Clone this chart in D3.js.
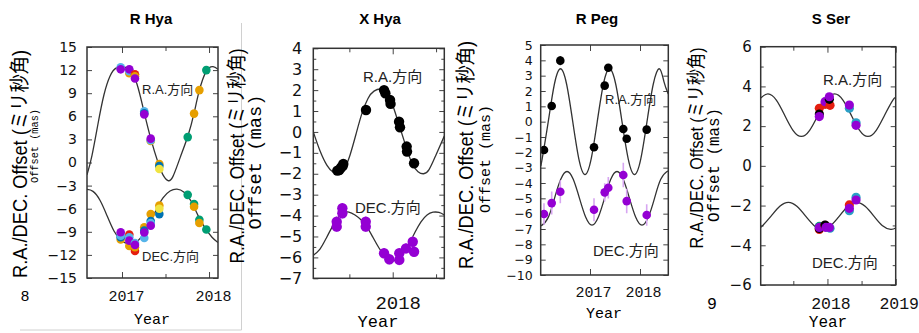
<!DOCTYPE html>
<html>
<head>
<meta charset="utf-8">
<script src="https://cdn.jsdelivr.net/npm/d3@7"></script>
<style>
  body { margin: 0; background: #fff; }
</style>
</head>
<body>
<div id="plot"></div>
<script>
// ---- data ----
// maser spot ids -> colours are set further down
// R Hya: [year, offset mas, spot]
const rHyaRA = [
  [2016.985, 12.35, "C"], [2016.985, 12.1, "A"],
  [2017.084, 11.6, "D"], [2017.084, 11.85, "C"], [2017.084, 12.1, "A"],
  [2017.149, 11.45, "G"], [2017.149, 11.2, "D"], [2017.149, 10.9, "A"],
  [2017.256, 6.65, "C"], [2017.256, 6.4, "F"], [2017.256, 6.25, "A"],
  [2017.330, 2.8, "D"], [2017.330, 2.9, "C"], [2017.330, 3.1, "A"],
  [2017.429, -0.2, "D"], [2017.429, -0.45, "F"], [2017.429, -0.85, "E"],
  [2017.755, 3.3, "B"], [2017.828, 6.35, "D"], [2017.889, 9.4, "D"], [2017.969, 12.0, "B"]
];
const rHyaDEC = [
  [2016.985, -10.0, "D"], [2016.985, -9.7, "F"], [2016.985, -9.5, "C"], [2016.985, -9.05, "A"],
  [2017.084, -9.35, "G"], [2017.084, -10.85, "D"], [2017.084, -9.7, "C"], [2017.084, -10.15, "A"],
  [2017.149, -11.5, "G"], [2017.149, -11.0, "D"], [2017.149, -10.45, "C"], [2017.149, -10.7, "A"],
  [2017.256, -8.4, "D"], [2017.256, -8.85, "F"], [2017.256, -9.8, "C"], [2017.256, -9.1, "A"],
  [2017.330, -6.7, "D"], [2017.330, -7.6, "F"], [2017.330, -7.85, "C"], [2017.330, -8.2, "A"],
  [2017.429, -5.6, "D"], [2017.429, -6.7, "F"], [2017.429, -6.0, "E"],
  [2017.755, -4.2, "B"], [2017.828, -5.4, "B"], [2017.828, -5.75, "D"],
  [2017.889, -7.45, "B"], [2017.889, -7.85, "D"], [2017.969, -8.7, "B"]
];
const rHyaRAFit = [
  [2016.598, -1.6], [2016.655, 0.9], [2016.724, 5.0], [2016.793, 8.8], [2016.862, 11.2],
  [2016.931, 12.25], [2017.011, 12.4], [2017.092, 12.0], [2017.172, 10.2], [2017.253, 6.6],
  [2017.333, 3.0], [2017.414, 0.0], [2017.471, -1.6], [2017.529, -2.35], [2017.586, -1.8],
  [2017.667, 0.6], [2017.759, 3.5], [2017.828, 6.4], [2017.885, 9.2], [2017.966, 11.8],
  [2018.046, 12.45], [2018.103, 12.1]
];
const rHyaDECFit = [
  [2016.598, -3.5], [2016.667, -3.75], [2016.747, -4.9], [2016.828, -6.9], [2016.908, -8.9],
  [2016.989, -10.1], [2017.069, -10.55], [2017.149, -10.4], [2017.230, -9.6], [2017.310, -8.1],
  [2017.391, -6.2], [2017.471, -4.6], [2017.552, -3.7], [2017.632, -3.45], [2017.713, -3.85],
  [2017.793, -5.0], [2017.874, -6.9], [2017.954, -8.5], [2018.034, -9.7], [2018.103, -10.4]
];

// X Hya: [year, offset mas, error]
const xHyaRA = [
  [2017.361, -1.85, 0.1], [2017.384, -1.82, 0.1], [2017.404, -1.7, 0.1], [2017.423, -1.63, 0.1],
  [2017.430, -1.53, 0.1], [2017.692, 1.05, 0.1], [2017.900, 2.0, 0.1], [2017.915, 1.85, 0.1],
  [2017.969, 1.53, 0.1], [2017.975, 1.34, 0.1], [2018.073, 0.49, 0.1], [2018.084, 0.22, 0.1],
  [2018.161, -0.7, 0.1], [2018.165, -0.94, 0.1], [2018.246, -1.5, 0.1]
];
const xHyaDEC = [
  [2017.354, -4.29, 0.25], [2017.354, -4.53, 0.25], [2017.419, -3.89, 0.25], [2017.419, -3.65, 0.25],
  [2017.689, -4.29, 0.25], [2017.689, -4.53, 0.25], [2017.900, -5.8, 0.25], [2017.961, -6.09, 0.25],
  [2018.076, -6.12, 0.25], [2018.076, -5.8, 0.25], [2018.153, -5.57, 0.25], [2018.231, -5.25, 0.25],
  [2018.246, -5.73, 0.25]
];
const xHyaRAFit = [
  [2017.084, 0.0], [2017.161, -0.9], [2017.242, -1.6], [2017.311, -1.92], [2017.375, -2.0],
  [2017.438, -1.8], [2017.508, -1.1], [2017.577, -0.1], [2017.646, 0.9], [2017.715, 1.6],
  [2017.784, 1.95], [2017.871, 2.05], [2017.946, 1.8], [2018.015, 1.1], [2018.084, 0.2],
  [2018.153, -0.7], [2018.223, -1.5], [2018.292, -1.9], [2018.355, -2.0], [2018.419, -1.8],
  [2018.499, -1.1], [2018.595, -0.2]
];
const xHyaDECFit = [
  [2017.084, -5.9], [2017.161, -5.6], [2017.231, -5.1], [2017.300, -4.55], [2017.369, -4.1],
  [2017.438, -3.88], [2017.494, -3.83], [2017.565, -3.97], [2017.634, -4.2], [2017.704, -4.55],
  [2017.773, -5.05], [2017.842, -5.55], [2017.911, -5.95], [2017.980, -6.15], [2018.050, -6.1],
  [2018.119, -5.8], [2018.188, -5.35], [2018.257, -4.8], [2018.326, -4.3], [2018.396, -3.97],
  [2018.465, -3.84], [2018.534, -3.85], [2018.595, -3.97]
];

// R Peg: [year, offset mas, error]
const rPegRA = [
  [2016.080, -1.85, 0.25], [2016.234, 1.02, 0.2], [2016.406, 3.98, 0.3], [2017.080, -1.67, 0.25],
  [2017.294, 2.35, 0.2], [2017.366, 3.52, 0.2], [2017.666, -0.48, 0.2], [2017.734, -1.11, 0.2],
  [2018.134, -0.52, 0.2]
];
const rPegDEC = [
  [2016.080, -6.02, 0.7], [2016.234, -5.31, 0.75], [2016.406, -4.57, 0.75], [2017.080, -5.74, 0.75],
  [2017.294, -4.61, 0.6], [2017.366, -4.31, 0.7], [2017.666, -3.48, 0.8], [2017.734, -5.18, 0.8],
  [2018.134, -6.09, 0.7]
];
const rPegRAFit = [
  [2016.014, -2.85], [2016.0425, -2.44], [2016.165, 0], [2016.2875, 2.44], [2016.41, 3.45],
  [2016.5325, 2.44], [2016.655, 0], [2016.7775, -2.44], [2016.9, -3.45], [2017.0225, -2.44],
  [2017.145, 0], [2017.2675, 2.44], [2017.39, 3.45], [2017.515, 2.44], [2017.64, 0],
  [2017.765, -2.44], [2017.89, -3.45], [2018.015, -2.44], [2018.14, 0], [2018.265, 2.44],
  [2018.39, 3.45], [2018.48, 2.6], [2018.566, 1.8]
];
const rPegDECFit = [
  [2016.014, -6.73], [2016.04, -6.75], [2016.165, -6.24], [2016.29, -5.0], [2016.415, -3.76],
  [2016.54, -3.25], [2016.665, -3.76], [2016.79, -5.0], [2016.915, -6.24], [2017.04, -6.75],
  [2017.165, -6.24], [2017.29, -5.0], [2017.415, -3.76], [2017.54, -3.25], [2017.665, -3.76],
  [2017.79, -5.0], [2017.915, -6.24], [2018.04, -6.75], [2018.165, -6.24], [2018.29, -5.0],
  [2018.415, -3.76], [2018.54, -3.25], [2018.566, -3.27]
];

// S Ser: [year, offset mas, spot]
const sSerRA = [
  [2017.881, 2.9, "G"], [2017.881, 2.61, "H"], [2017.881, 2.48, "A"],
  [2017.965, 3.1, "G"], [2017.965, 3.23, "A"],
  [2018.038, 3.05, "G"], [2018.028, 3.35, "H"], [2018.028, 3.48, "A"],
  [2018.321, 2.9, "I"], [2018.321, 3.06, "A"],
  [2018.419, 2.17, "I"], [2018.419, 2.04, "A"]
];
const sSerDEC = [
  [2017.881, -3.2, "G"], [2017.881, -3.05, "B"], [2017.881, -3.15, "H"], [2017.881, -3.1, "A"],
  [2017.965, -3.0, "G"], [2017.965, -2.98, "H"], [2017.979, -3.1, "A"],
  [2018.038, -3.14, "I"], [2018.028, -3.1, "A"],
  [2018.321, -1.97, "G"], [2018.321, -2.26, "I"], [2018.321, -2.14, "A"],
  [2018.419, -1.58, "I"], [2018.419, -1.72, "A"]
];
const sSerRAFit = [
  [2017.022, 3.42], [2017.129, 3.62], [2017.251, 3.31], [2017.373, 2.55], [2017.495, 1.79],
  [2017.617, 1.48], [2017.739, 1.79], [2017.861, 2.55], [2017.983, 3.31], [2018.105, 3.62],
  [2018.227, 3.31], [2018.349, 2.55], [2018.471, 1.79], [2018.593, 1.48], [2018.715, 1.79],
  [2018.837, 2.55], [2018.959, 3.31], [2019.0, 3.42]
];
const sSerDECFit = [
  [2017.022, -3.08], [2017.052, -3.0], [2017.177, -2.52], [2017.302, -2.04], [2017.427, -1.84],
  [2017.552, -2.04], [2017.677, -2.52], [2017.802, -3.0], [2017.927, -3.2], [2018.052, -3.0],
  [2018.177, -2.52], [2018.302, -2.04], [2018.427, -1.84], [2018.552, -2.04], [2018.677, -2.52],
  [2018.802, -3.0], [2018.927, -3.2], [2019.0, -3.13]
];

// tick values
const rHyaYTicks = [-15, -12, -9, -6, -3, 0, 3, 6, 9, 12, 15];
const xHyaYTicks = [-7, -6, -5, -4, -3, -2, -1, 0, 1, 2, 3, 4];
const xHyaYMinor = [-6.5, -5.5, -4.5, -3.5, -2.5, -1.5, -0.5, 0.5, 1.5, 2.5, 3.5];
const rPegYTicks = [-10, -9, -8, -7, -6, -5, -4, -3, -2, -1, 0, 1, 2, 3, 4, 5];
const sSerYTicks = [-6, -4, -2, 0, 2, 4, 6];
const sSerYMinor = [-5, -3, -1, 1, 3, 5];

const yLabelText = "R.A./DEC. Offset (ミリ秒角)";
const monoLabelText = "Offset (mas)";

// ---- drawing ----
const width = 919;
const height = 333;

const spotColor = d3.scaleOrdinal()
  .domain(["A", "B", "C", "D", "E", "F", "G", "H", "I"])
  .range(["#9400D3", "#009E73", "#56B4E9", "#E69F00", "#F0E442", "#0072B2", "#E51E10", "#000000", "#2a9fc6"]);

const svg = d3.select("#plot")
  .append("svg")
  .attr("width", width)
  .attr("height", height)
  .style("display", "block");

const sans = "'Liberation Sans', Arial, Helvetica, 'Noto Sans CJK JP', sans-serif";
const mono = "'Courier New', 'Liberation Mono', monospace";
const tickFont = "'DejaVu Sans', sans-serif";

// faint panel borders left over from the collage
svg.append("line").attr("x1", 241.5).attr("x2", 241.5).attr("y1", 23).attr("y2", 330)
  .attr("stroke", "#d0d0d0").attr("stroke-width", 1);
svg.append("line").attr("x1", 20).attr("x2", 241.5).attr("y1", 330).attr("y2", 330)
  .attr("stroke", "#d0d0d0").attr("stroke-width", 1);

// clipped tick labels of the neighbour panels
svg.append("text").attr("x", 25).attr("y", 301).attr("text-anchor", "middle")
  .style("font-family", mono).style("font-size", "15px").text("8");
svg.append("text").attr("x", 712).attr("y", 309).attr("text-anchor", "middle")
  .style("font-family", mono).style("font-size", "16.5px").text("9");

let clipId = 0;

function drawPanel(p) {
  const x = d3.scaleLinear().domain(p.xDomain).range([p.l, p.r]);
  const y = d3.scaleLinear().domain(p.yDomain).range([p.b, p.t]);
  const g = svg.append("g");

  // axis titles
  g.append("text")
    .attr("transform", `translate(${p.big.x},${p.big.cy}) rotate(-90)`)
    .attr("text-anchor", "middle")
    .attr("textLength", p.big.len)
    .attr("lengthAdjust", "spacingAndGlyphs")
    .style("font-family", sans)
    .style("font-size", p.big.size + "px")
    .text(yLabelText);
  g.append("text")
    .attr("transform", `translate(${p.mono.x},${p.mono.cy}) rotate(-90)`)
    .attr("text-anchor", "middle")
    .attr("textLength", p.mono.len)
    .attr("lengthAdjust", "spacingAndGlyphs")
    .style("font-family", mono)
    .style("font-size", p.mono.size + "px")
    .text(monoLabelText);

  g.append("text")
    .attr("x", p.titleX).attr("y", 24)
    .attr("text-anchor", "middle")
    .style("font-family", sans).style("font-weight", "bold").style("font-size", "15px")
    .text(p.title);

  g.append("text")
    .attr("x", p.yearX).attr("y", p.yearY)
    .attr("text-anchor", "middle")
    .style("font-family", mono).style("font-size", p.yearFont + "px")
    .text("Year");

  // ticks
  const tickLen = 5;
  const left = g.append("g").attr("transform", `translate(${p.l},0)`)
    .call(d3.axisLeft(y).tickValues(p.yTicks).tickSize(-tickLen).tickPadding(p.yPad));
  left.selectAll("text").style("font-family", tickFont).style("font-size", p.yFont + "px").attr("fill", "#111");
  g.append("g").attr("transform", `translate(${p.r},0)`)
    .call(d3.axisRight(y).tickValues(p.yTicks).tickSize(-tickLen).tickFormat(""));
  if (p.yMinor) {
    g.append("g").attr("transform", `translate(${p.l},0)`)
      .call(d3.axisLeft(y).tickValues(p.yMinor).tickSize(-3).tickFormat(""));
    g.append("g").attr("transform", `translate(${p.r},0)`)
      .call(d3.axisRight(y).tickValues(p.yMinor).tickSize(-3).tickFormat(""));
  }
  const bottom = g.append("g").attr("transform", `translate(0,${p.b})`)
    .call(d3.axisBottom(x).tickValues(p.xTicks).tickSize(-6).tickFormat(d3.format("d")));
  bottom.selectAll("text")
    .attr("y", p.xLabelY - p.b).attr("dy", null).attr("dx", p.xDx)
    .style("font-family", mono).style("font-size", p.xFont + "px").attr("fill", "#111");
  g.append("g").attr("transform", `translate(0,${p.t})`)
    .call(d3.axisTop(x).tickValues(p.xTicks).tickSize(-6).tickFormat(""));
  if (p.xMinor) {
    g.append("g").attr("transform", `translate(0,${p.b})`)
      .call(d3.axisBottom(x).tickValues(p.xMinor).tickSize(-4).tickFormat(""));
    g.append("g").attr("transform", `translate(0,${p.t})`)
      .call(d3.axisTop(x).tickValues(p.xMinor).tickSize(-4).tickFormat(""));
  }
  g.selectAll(".domain").remove();
  g.selectAll(".tick line").attr("stroke", "#444");

  // plot area
  const id = "clip" + (clipId++);
  svg.append("clipPath").attr("id", id)
    .append("rect").attr("x", p.l).attr("y", p.t).attr("width", p.r - p.l).attr("height", p.b - p.t);
  const area = g.append("g").attr("clip-path", `url(#${id})`);

  const line = d3.line().x(d => x(d[0])).y(d => y(d[1])).curve(d3.curveNatural);
  p.fits.forEach(f => {
    area.append("path").datum(f)
      .attr("d", line)
      .attr("fill", "none")
      .attr("stroke", "#333")
      .attr("stroke-width", 1.3);
  });

  p.series.forEach(s => {
    const col = d => s.color || spotColor(d[2]);
    if (s.err) {
      area.append("g").selectAll("line").data(s.data).join("line")
        .attr("x1", d => x(d[0])).attr("x2", d => x(d[0]))
        .attr("y1", d => y(d[1] - d[2])).attr("y2", d => y(d[1] + d[2]))
        .attr("stroke", s.errColor)
        .attr("stroke-width", 1.6);
    }
    area.append("g").selectAll("circle").data(s.data).join("circle")
      .attr("cx", d => x(d[0]))
      .attr("cy", d => y(d[1]))
      .attr("r", s.r)
      .attr("fill", col);
  });

  g.append("rect")
    .attr("x", p.l).attr("y", p.t).attr("width", p.r - p.l).attr("height", p.b - p.t)
    .attr("fill", "none").attr("stroke", "#333").attr("stroke-width", 1.5);

  g.append("text").attr("x", p.ra.x).attr("y", p.ra.y)
    .style("font-family", sans).style("font-size", p.ra.size + "px").attr("fill", "#222")
    .text("R.A.方向");
  g.append("text").attr("x", p.dec.x).attr("y", p.dec.y)
    .style("font-family", sans).style("font-size", p.dec.size + "px").attr("fill", "#222")
    .text("DEC.方向");
}

drawPanel({
  title: "R Hya", titleX: 151,
  l: 87, r: 218, t: 47, b: 278,
  xDomain: [2016.598, 2018.103], yDomain: [-15, 15],
  yTicks: rHyaYTicks, yPad: 10, yFont: 14,
  xTicks: [2017, 2018], xMinor: [2017.5], xLabelY: 301, xDx: 4, xFont: 15,
  yearX: 152, yearY: 324, yearFont: 15,
  big: { x: 27, cy: 164, len: 228, size: 20 },
  mono: { x: 38, cy: 146, len: 74, size: 11 },
  ra: { x: 142, y: 94, size: 13 }, dec: { x: 142, y: 261, size: 13 },
  fits: [rHyaRAFit, rHyaDECFit],
  series: [
    { data: rHyaRA, r: 4.3 },
    { data: rHyaDEC, r: 4.3 }
  ]
});

drawPanel({
  title: "X Hya", titleX: 380,
  l: 313.3, r: 444.3, t: 48.3, b: 278.3,
  xDomain: [2017.084, 2018.595], yDomain: [-7, 4],
  yTicks: xHyaYTicks, yMinor: xHyaYMinor, yPad: 11, yFont: 16,
  xTicks: [2018], xMinor: [2017.5, 2018.5], xLabelY: 309, xDx: 5, xFont: 19,
  yearX: 378, yearY: 327, yearFont: 17,
  big: { x: 244, cy: 156, len: 215, size: 20 },
  mono: { x: 261, cy: 162, len: 135, size: 18 },
  ra: { x: 363, y: 82, size: 15 }, dec: { x: 355, y: 213, size: 15 },
  fits: [xHyaRAFit, xHyaDECFit],
  series: [
    { data: xHyaRA, r: 5.2, color: "#000", err: true, errColor: "#555" },
    { data: xHyaDEC, r: 5.2, color: "#9400D3", err: true, errColor: "#c77ff0" }
  ]
});

drawPanel({
  title: "R Peg", titleX: 597,
  l: 540.7, r: 668.3, t: 45, b: 275,
  xDomain: [2016.014, 2018.566], yDomain: [-10, 5],
  yTicks: rPegYTicks, yPad: 8, yFont: 12.5,
  xTicks: [2017, 2018], xLabelY: 297, xDx: 3, xFont: 15,
  yearX: 604, yearY: 318, yearFont: 15,
  big: { x: 473, cy: 155, len: 228, size: 20 },
  mono: { x: 490, cy: 159, len: 108, size: 15 },
  ra: { x: 605, y: 104, size: 13 }, dec: { x: 593, y: 256, size: 15 },
  fits: [rPegRAFit, rPegDECFit],
  series: [
    { data: rPegRA, r: 4.3, color: "#000", err: true, errColor: "#444" },
    { data: rPegDEC, r: 4.3, color: "#9400D3", err: true, errColor: "#d7a6f2" }
  ]
});

drawPanel({
  title: "S Ser", titleX: 831,
  l: 760.7, r: 895.7, t: 46.7, b: 285,
  xDomain: [2017.022, 2019.0], yDomain: [-6, 6],
  yTicks: sSerYTicks, yMinor: sSerYMinor, yPad: 9, yFont: 15,
  xTicks: [2018, 2019], xMinor: [2017.5, 2018.5], xLabelY: 309, xDx: 3, xFont: 16.5,
  yearX: 828, yearY: 327, yearFont: 16,
  big: { x: 703, cy: 148, len: 201, size: 19 },
  mono: { x: 719, cy: 165, len: 114, size: 16 },
  ra: { x: 823, y: 85, size: 15 }, dec: { x: 812, y: 268, size: 15 },
  fits: [sSerRAFit, sSerDECFit],
  series: [
    { data: sSerRA, r: 4.6 },
    { data: sSerDEC, r: 4.6 }
  ]
});
</script>
</body>
</html>
